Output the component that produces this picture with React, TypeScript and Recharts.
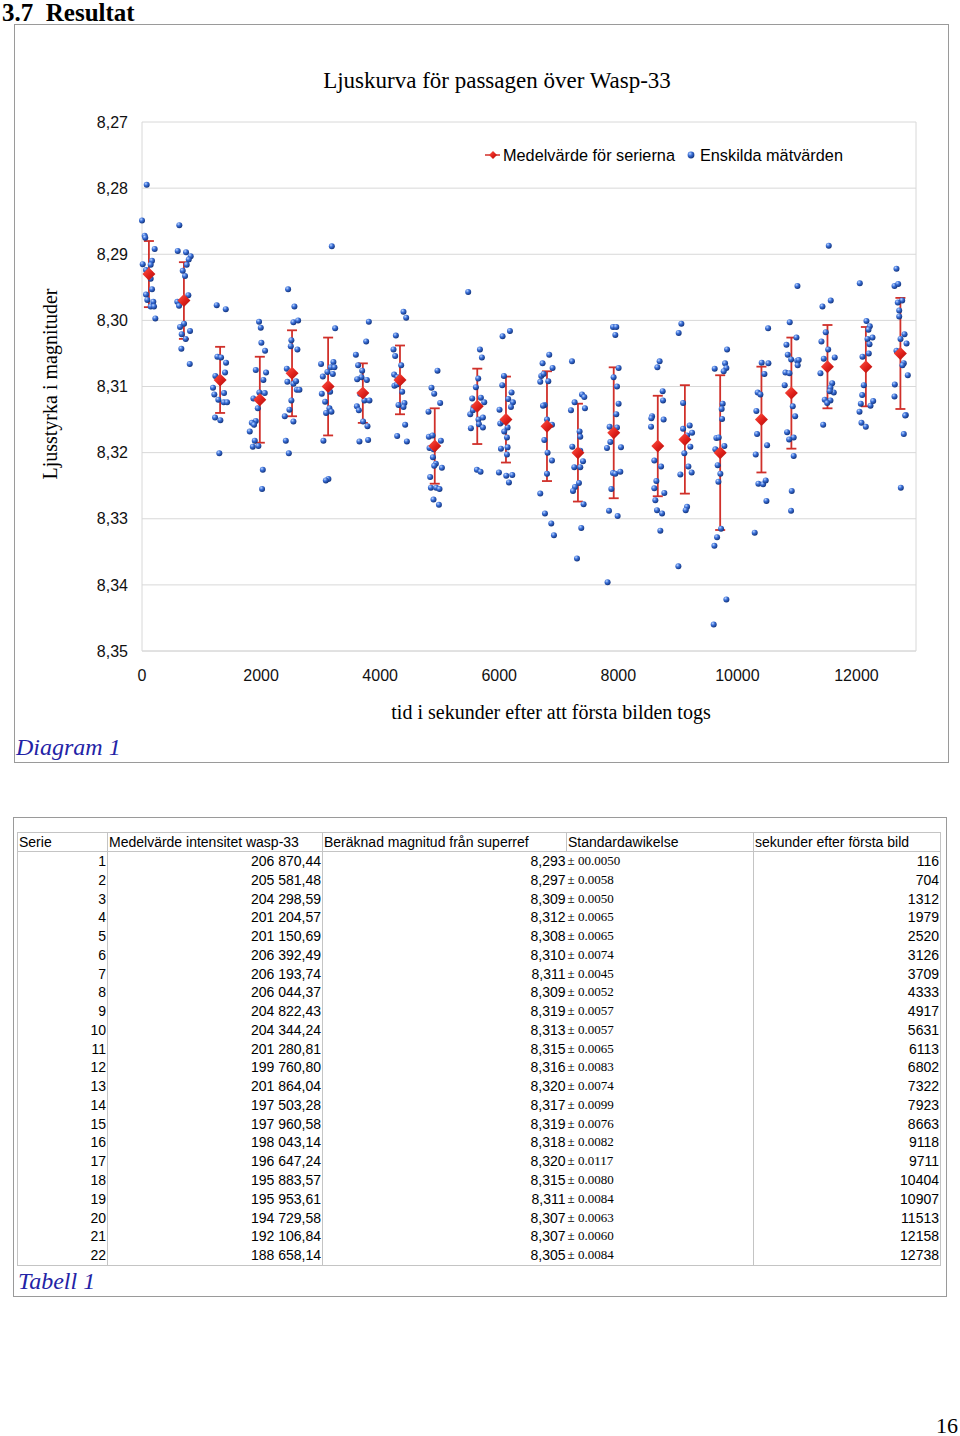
import React from "react";
import {
  ScatterChart, Scatter, XAxis, YAxis, CartesianGrid, ErrorBar, ReferenceLine,
} from "recharts";

// Serie-medelvärden (från tabellen)
const serie = [1, 2, 3, 4, 5, 6, 7, 8, 9, 10, 11, 12, 13, 14, 15, 16, 17, 18, 19, 20, 21, 22];
const intensity = [
  "206 870,44", "205 581,48", "204 298,59", "201 204,57", "201 150,69", "206 392,49",
  "206 193,74", "206 044,37", "204 822,43", "204 344,24", "201 280,81", "199 760,80",
  "201 864,04", "197 503,28", "197 960,58", "198 043,14", "196 647,24", "195 883,57",
  "195 953,61", "194 729,58", "192 106,84", "188 658,14",
];
const meanMag = [
  8.293, 8.297, 8.309, 8.312, 8.308, 8.310, 8.311, 8.309, 8.319, 8.313, 8.315,
  8.316, 8.320, 8.317, 8.319, 8.318, 8.320, 8.315, 8.311, 8.307, 8.307, 8.305,
];
const stdText = [
  "00.0050", "0.0058", "0.0050", "0.0065", "0.0065", "0.0074", "0.0045", "0.0052",
  "0.0057", "0.0057", "0.0065", "0.0083", "0.0074", "0.0099", "0.0076", "0.0082",
  "0.0117", "0.0080", "0.0084", "0.0063", "0.0060", "0.0084",
];
const seconds = [
  116, 704, 1312, 1979, 2520, 3126, 3709, 4333, 4917, 5631, 6113,
  6802, 7322, 7923, 8663, 9118, 9711, 10404, 10907, 11513, 12158, 12738,
];

// Enskilda mätvärden [sekunder, magnitud] per serie (avlästa)
const d01 = [[79, 8.2795], [0, 8.2849], [45, 8.2872], [55, 8.2875], [213, 8.2892], [12, 8.2915], [168, 8.291], [146, 8.2916], [67, 8.2924], [134, 8.2929], [146, 8.2937], [168, 8.2953], [67, 8.2961], [89, 8.2969], [190, 8.2972], [146, 8.2979], [202, 8.2979], [224, 8.2997]];
const d02 = [[627, 8.2856], [600, 8.2895], [740, 8.2897], [818, 8.2903], [785, 8.2908], [751, 8.2916], [684, 8.2925], [723, 8.2933], [778, 8.2962], [593, 8.2972], [622, 8.2978], [684, 8.297], [706, 8.3005], [639, 8.301], [807, 8.3016], [667, 8.3021], [734, 8.3028], [661, 8.3043], [802, 8.3066]];
const d03 = [[1255, 8.2977], [1407, 8.2983], [1266, 8.3055], [1328, 8.3056], [1412, 8.3064], [1395, 8.3079], [1232, 8.3084], [1193, 8.3102], [1215, 8.3112], [1378, 8.311], [1282, 8.312], [1373, 8.3124], [1429, 8.3124], [1227, 8.3147], [1316, 8.3151], [1299, 8.3201]];
const d04 = [[1966, 8.3002], [1995, 8.3011], [2005, 8.3034], [2067, 8.3046], [1911, 8.3075], [2084, 8.3079], [2039, 8.309], [1971, 8.3109], [2062, 8.311], [1871, 8.3118], [1945, 8.3133], [1911, 8.3152], [1844, 8.3155], [1882, 8.3158], [1810, 8.3168], [1894, 8.3182], [1861, 8.3191], [1955, 8.319], [2029, 8.3226], [2017, 8.3255]];
const d05 = [[2454, 8.2953], [2560, 8.2979], [2543, 8.3003], [2622, 8.3], [2509, 8.303], [2499, 8.3039], [2610, 8.3044], [2432, 8.3073], [2499, 8.3078], [2442, 8.3093], [2543, 8.3096], [2588, 8.3092], [2600, 8.3105], [2644, 8.3105], [2509, 8.3121], [2476, 8.3135], [2398, 8.3145], [2543, 8.3153], [2415, 8.3182], [2466, 8.3201]];
const d06 = [[3188, 8.2888], [3244, 8.3012], [3008, 8.3066], [3215, 8.3063], [3171, 8.3071], [3232, 8.3071], [3114, 8.3078], [3205, 8.3081], [3037, 8.3085], [3020, 8.3111], [3160, 8.3108], [3076, 8.3123], [3148, 8.3133], [3182, 8.3138], [3092, 8.314], [3047, 8.3182], [3131, 8.324], [3087, 8.3242]];
const d07 = [[3810, 8.3002], [3765, 8.3032], [3592, 8.3052], [3630, 8.3068], [3698, 8.3076], [3686, 8.3086], [3614, 8.3089], [3777, 8.309], [3664, 8.3111], [3736, 8.3121], [3820, 8.3121], [3609, 8.313], [3642, 8.3136], [3714, 8.3153], [3787, 8.316], [3652, 8.3183], [3798, 8.3181]];
const d08 = [[4392, 8.2987], [4437, 8.2996], [4264, 8.3023], [4224, 8.3044], [4252, 8.3054], [4353, 8.3068], [4235, 8.3082], [4291, 8.3086], [4240, 8.3099], [4281, 8.3097], [4370, 8.3108], [4408, 8.3125], [4392, 8.3131], [4308, 8.3128], [4420, 8.3158], [4286, 8.3175], [4449, 8.3183]];
const d09 = [[4963, 8.3076], [4862, 8.3102], [4908, 8.3111], [5008, 8.3125], [4812, 8.3138], [4818, 8.3176], [4879, 8.3174], [5020, 8.3182], [4829, 8.3193], [4896, 8.3195], [4886, 8.3207], [4936, 8.3217], [4908, 8.322], [5037, 8.3223], [4840, 8.3237], [4852, 8.3253], [4941, 8.3253], [4997, 8.3255], [4896, 8.3271], [4987, 8.3279]];
const d10 = [[5479, 8.2957], [5676, 8.3044], [5709, 8.3056], [5647, 8.3088], [5608, 8.3101], [5546, 8.3118], [5692, 8.3117], [5748, 8.3124], [5568, 8.3131], [5513, 8.3142], [5558, 8.3136], [5652, 8.315], [5726, 8.3147], [5659, 8.3157], [5524, 8.3163], [5726, 8.3162], [5625, 8.3226], [5686, 8.3229]];
const d11 = [[6056, 8.3024], [6180, 8.3016], [6079, 8.3084], [6051, 8.3098], [6207, 8.3109], [6151, 8.3119], [6230, 8.3124], [6005, 8.3135], [6197, 8.3131], [6017, 8.3156], [6062, 8.3153], [6140, 8.3162], [6084, 8.3168], [6130, 8.3177], [6029, 8.3194], [6140, 8.3192], [6130, 8.3203], [5995, 8.323], [6118, 8.3235], [6219, 8.3234], [6163, 8.3245]];
const d12 = [[6840, 8.3052], [6728, 8.3065], [6896, 8.3072], [6706, 8.3084], [6745, 8.3081], [6824, 8.3092], [6689, 8.3093], [6762, 8.3128], [6735, 8.3129], [6802, 8.315], [6886, 8.3158], [6757, 8.3181], [6812, 8.32], [6886, 8.3212], [6802, 8.3232], [6689, 8.3262], [6768, 8.3292], [6874, 8.3307], [6919, 8.3325]];
const d13 = [[7222, 8.3062], [7390, 8.3112], [7429, 8.3116], [7266, 8.3124], [7205, 8.3136], [7440, 8.3133], [7350, 8.3168], [7361, 8.3176], [7227, 8.3191], [7361, 8.3197], [7407, 8.3213], [7261, 8.3222], [7361, 8.3222], [7339, 8.3246], [7272, 8.3252], [7239, 8.3258], [7417, 8.3278], [7378, 8.3314], [7306, 8.336]];
const d14 = [[7911, 8.301], [7966, 8.301], [7950, 8.3022], [8005, 8.3072], [7921, 8.3086], [7978, 8.31], [8005, 8.3126], [7966, 8.3142], [7854, 8.3161], [7978, 8.3162], [7866, 8.3184], [7810, 8.3193], [8045, 8.3192], [7911, 8.3231], [7950, 8.3232], [8034, 8.3229], [7883, 8.3255], [7844, 8.3288], [7989, 8.3296], [7820, 8.3396]];
const d15 = [[8694, 8.3062], [8656, 8.3071], [8745, 8.3107], [8751, 8.3121], [8567, 8.3145], [8555, 8.3148], [8761, 8.315], [8550, 8.3161], [8605, 8.3212], [8718, 8.3221], [8639, 8.3243], [8605, 8.3254], [8773, 8.3261], [8622, 8.3272], [8650, 8.3287], [8735, 8.3292], [8706, 8.3318]];
const d16 = [[9059, 8.3005], [9014, 8.3019], [9088, 8.3125], [9199, 8.3159], [9088, 8.3164], [9239, 8.317], [9155, 8.3174], [9210, 8.3191], [9109, 8.3201], [9177, 8.3221], [9042, 8.3233], [9232, 8.323], [9155, 8.3282], [9132, 8.3287], [9009, 8.3372]];
const d17 = [[9827, 8.3044], [9619, 8.3073], [9793, 8.3065], [9815, 8.3072], [9770, 8.3077], [9753, 8.3126], [9736, 8.3134], [9743, 8.3149], [9647, 8.3178], [9686, 8.3177], [9630, 8.3195], [9782, 8.319], [9669, 8.3219], [9714, 8.3232], [9681, 8.3244], [9726, 8.3315], [9659, 8.3328], [9614, 8.3341], [9815, 8.3422], [9602, 8.346]];
const d18 = [[10516, 8.3012], [10408, 8.3064], [10521, 8.3065], [10454, 8.3081], [10341, 8.3109], [10387, 8.3112], [10319, 8.3137], [10331, 8.3172], [10499, 8.3189], [10308, 8.3203], [10353, 8.3247], [10432, 8.3248], [10476, 8.3242], [10488, 8.3273], [10291, 8.3321]];
const d19 = [[11009, 8.2948], [10879, 8.3003], [10992, 8.3026], [10824, 8.3037], [10846, 8.3052], [10903, 8.3059], [11004, 8.3061], [11030, 8.306], [11013, 8.3068], [10807, 8.3079], [10874, 8.308], [10795, 8.3098], [10930, 8.313], [10970, 8.3145], [10835, 8.3169], [10946, 8.3177], [10869, 8.318], [10946, 8.3205], [10913, 8.3258], [10902, 8.3288]];
const d20 = [[11535, 8.2887], [11429, 8.2979], [11568, 8.297], [11484, 8.3018], [11412, 8.3032], [11525, 8.3044], [11451, 8.3058], [11635, 8.3056], [11395, 8.308], [11592, 8.3095], [11563, 8.3102], [11619, 8.3109], [11552, 8.3107], [11467, 8.312], [11563, 8.3121], [11508, 8.3125], [11441, 8.3158]];
const d21 = [[12056, 8.2944], [12168, 8.3001], [12224, 8.3009], [12202, 8.3014], [12269, 8.3026], [12185, 8.3028], [12219, 8.3036], [12207, 8.305], [12101, 8.3055], [12135, 8.307], [12123, 8.3098], [12096, 8.3113], [12073, 8.3126], [12236, 8.3129], [12281, 8.3122], [12051, 8.3138], [12084, 8.3155], [12157, 8.3161]];
const d22 = [[12672, 8.2922], [12639, 8.2948], [12701, 8.2945], [12768, 8.297], [12694, 8.2973], [12718, 8.2985], [12718, 8.2994], [12807, 8.3021], [12740, 8.3028], [12841, 8.3035], [12672, 8.3046], [12795, 8.3065], [12773, 8.3068], [12862, 8.3083], [12644, 8.3097], [12639, 8.3115], [12829, 8.3143], [12818, 8.3144], [12795, 8.3172], [12745, 8.3253]];

const yTicks = [8.27, 8.28, 8.29, 8.30, 8.31, 8.32, 8.33, 8.34, 8.35];
const xTicks = [0, 2000, 4000, 6000, 8000, 10000, 12000];

const dotSeries = [d01, d02, d03, d04, d05, d06, d07, d08, d09, d10, d11, d12, d13, d14, d15, d16, d17, d18, d19, d20, d21, d22];
const dotData = dotSeries.flat().map(([t, m]) => ({ t, m }));
const meanData = seconds.map((t, i) => ({ t, m: meanMag[i], e: parseFloat(stdText[i]) }));

const SANS = "'Liberation Sans', Arial, sans-serif";
const SERIF = "'Liberation Serif', 'Times New Roman', serif";
const BLUE_CAPTION = "#2323a6";

const BlueDot = (props: any) => {
  const { cx, cy } = props;
  if (cx == null || cy == null) return null;
  return <circle cx={cx} cy={cy} r={3} fill="url(#dotGrad)" />;
};

const RedDiamond = (props: any) => {
  const { cx, cy } = props;
  if (cx == null || cy == null) return null;
  const s = 6.5;
  return (
    <polygon
      points={`${cx},${cy - s} ${cx + s},${cy} ${cx},${cy + s} ${cx - s},${cy}`}
      fill="url(#diaGrad)"
    />
  );
};

const fmtMag = (v: number) => v.toFixed(2).replace(".", ",");

export default function App() {
  const cell: React.CSSProperties = {
    padding: "0 1px",
    height: 18.76,
    lineHeight: "18.76px",
    whiteSpace: "nowrap",
    borderRight: "1px solid #c4c4c4",
  };
  const head: React.CSSProperties = {
    ...cell,
    textAlign: "left",
    fontWeight: "normal",
    borderBottom: "1px solid #c4c4c4",
    height: 18,
    lineHeight: "18px",
  };

  return (
    <div style={{ position: "absolute", left: 0, top: 0, width: 960, height: 1436, background: "#fff" }}>
      <svg width={0} height={0} style={{ position: "absolute" }}>
        <defs>
          <radialGradient id="dotGrad" cx="35%" cy="30%" r="70%">
            <stop offset="0%" stopColor="#bcd6ff" />
            <stop offset="45%" stopColor="#3a6fd8" />
            <stop offset="100%" stopColor="#13357f" />
          </radialGradient>
          <linearGradient id="diaGrad" x1="0" y1="0" x2="1" y2="1">
            <stop offset="0%" stopColor="#ff5a4a" />
            <stop offset="55%" stopColor="#e0201a" />
            <stop offset="100%" stopColor="#a8100c" />
          </linearGradient>
        </defs>
      </svg>

      {/* Rubrik */}
      <div style={{ position: "absolute", left: 2, top: 0, fontFamily: SERIF, fontWeight: "bold", fontSize: 25, lineHeight: "26px" }}>
        3.7&nbsp; Resultat
      </div>

      {/* Diagramram */}
      <div style={{ position: "absolute", left: 14, top: 24, width: 933, height: 737, border: "1px solid #9a9a9a" }} />

      <div style={{ position: "absolute", left: 0, top: 67, width: 994, textAlign: "center", fontFamily: SERIF, fontSize: 23, lineHeight: "28px" }}>
        Ljuskurva för passagen över Wasp-33
      </div>

      {/* Förklaring */}
      <div style={{ position: "absolute", left: 484, top: 145, height: 20, display: "flex", alignItems: "center", fontFamily: SANS, fontSize: 16.3 }}>
        <svg width={18} height={12} style={{ marginRight: 1 }}>
          <line x1={1} y1={6} x2={16} y2={6} stroke="#d0302a" strokeWidth={1.5} />
          <polygon points="9,2 13,6 9,10 5,6" fill="url(#diaGrad)" />
        </svg>
        <span>Medelvärde för serierna</span>
        <svg width={14} height={12} style={{ marginLeft: 9, marginRight: 2 }}>
          <circle cx={7} cy={6} r={3.4} fill="url(#dotGrad)" />
        </svg>
        <span>Enskilda mätvärden</span>
      </div>

      <div style={{ position: "absolute", left: 0, top: 0 }}>
        <ScatterChart width={960} height={720} margin={{ top: 122, right: 44, bottom: 29, left: 0 }}>
          <CartesianGrid vertical={false} stroke="#d8d8d8" />
          <XAxis
            type="number"
            dataKey="t"
            domain={[0, 13000]}
            ticks={xTicks}
            interval={0}
            height={40}
            axisLine={{ stroke: "#d8d8d8" }}
            tickLine={false}
            tickSize={6}
            tickMargin={13}
            tick={{ fontSize: 16, fill: "#111", fontFamily: SANS }}
          />
          <YAxis
            type="number"
            dataKey="m"
            domain={[8.27, 8.35]}
            ticks={yTicks}
            interval={0}
            reversed
            allowDataOverflow
            width={142}
            axisLine={{ stroke: "#d8d8d8" }}
            tickLine={false}
            tickSize={6}
            tickMargin={8}
            tickFormatter={fmtMag}
            tick={{ fontSize: 16, fill: "#111", fontFamily: SANS }}
          />
          <ReferenceLine x={13000} stroke="#d8d8d8" />
          <Scatter data={dotData} shape={<BlueDot />} isAnimationActive={false} />
          <Scatter data={meanData} shape={<RedDiamond />} isAnimationActive={false}>
            <ErrorBar dataKey="e" direction="y" width={5} stroke="#d0302a" strokeWidth={1.8} isAnimationActive={false} />
          </Scatter>
        </ScatterChart>
      </div>

      {/* Axeltitlar */}
      <div style={{ position: "absolute", left: 351, top: 699, width: 400, textAlign: "center", fontFamily: SERIF, fontSize: 20, lineHeight: "26px" }}>
        tid i sekunder efter att första bilden togs
      </div>
      <div style={{ position: "absolute", left: 50 - 150, top: 384 - 13, width: 300, height: 26, textAlign: "center", fontFamily: SERIF, fontSize: 20, lineHeight: "26px", transform: "rotate(-90deg)" }}>
        Ljusstyrka i magnituder
      </div>

      <div style={{ position: "absolute", left: 16, top: 732, fontFamily: SERIF, fontStyle: "italic", fontSize: 24, lineHeight: "30px", color: BLUE_CAPTION }}>
        Diagram 1
      </div>

      {/* Tabell */}
      <div style={{ position: "absolute", left: 13, top: 817, width: 932, height: 478, border: "1px solid #9a9a9a" }} />
      <table
        style={{
          position: "absolute", left: 17, top: 832, width: 923, borderCollapse: "collapse",
          fontFamily: SANS, fontSize: 14, color: "#000", tableLayout: "fixed",
          borderTop: "1px solid #c4c4c4", borderLeft: "1px solid #c4c4c4", borderBottom: "1px solid #c4c4c4",
        }}
      >
        <colgroup>
          <col style={{ width: 90 }} />
          <col style={{ width: 215 }} />
          <col style={{ width: 244 }} />
          <col style={{ width: 187 }} />
          <col style={{ width: 187 }} />
        </colgroup>
        <thead>
          <tr>
            <th style={head}>Serie</th>
            <th style={head}>Medelvärde intensitet wasp-33</th>
            <th style={head}>Beräknad magnitud från superref</th>
            <th style={head}>Standardawikelse</th>
            <th style={head}>sekunder efter första bild</th>
          </tr>
        </thead>
        <tbody>
          {serie.map((s, i) => (
            <tr key={s}>
              <td style={{ ...cell, textAlign: "right" }}>{s}</td>
              <td style={{ ...cell, textAlign: "right" }}>{intensity[i]}</td>
              <td style={{ ...cell, textAlign: "right", borderRight: "none" }}>{meanMag[i].toFixed(3).replace(".", ",")}</td>
              <td style={{ ...cell, textAlign: "left", fontFamily: SERIF, fontSize: 13 }}>± {stdText[i]}</td>
              <td style={{ ...cell, textAlign: "right" }}>{seconds[i]}</td>
            </tr>
          ))}
        </tbody>
      </table>

      <div style={{ position: "absolute", left: 18, top: 1266, fontFamily: SERIF, fontStyle: "italic", fontSize: 24, lineHeight: "30px", color: BLUE_CAPTION }}>
        Tabell 1
      </div>

      <div style={{ position: "absolute", right: 2, top: 1413, fontFamily: SERIF, fontSize: 22, lineHeight: "26px" }}>
        16
      </div>
    </div>
  );
}
